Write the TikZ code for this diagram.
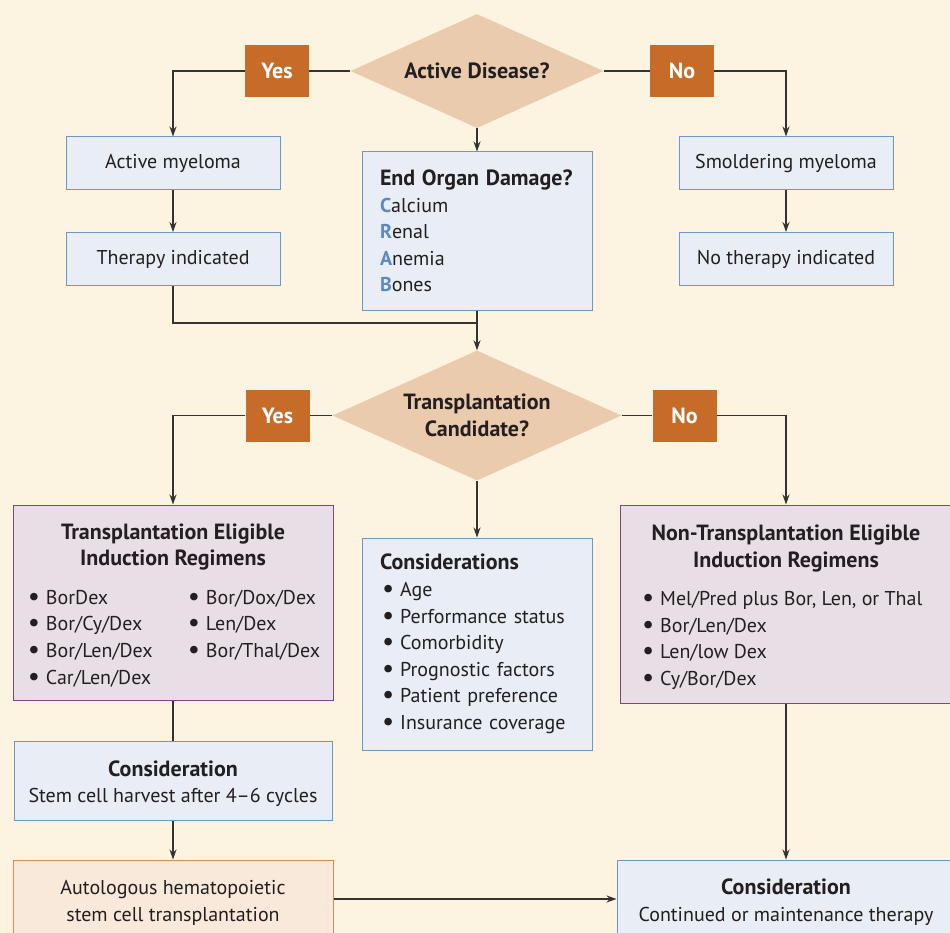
\documentclass[tikz,border=0pt]{standalone}
\usepackage{fontspec}
\setmainfont{PT Sans}
\usetikzlibrary{shapes.geometric, arrows.meta, positioning}

\definecolor{pagebg}{HTML}{FCF4E0}
\definecolor{decisionfill}{HTML}{EBCBAD}
\definecolor{answerfill}{HTML}{C66C28}
\definecolor{infofill}{HTML}{E9EDF5}
\definecolor{infoline}{HTML}{6C98C8}
\definecolor{regimenfill}{HTML}{E8DEE6}
\definecolor{regimenline}{HTML}{7F467E}
\definecolor{transfill}{HTML}{F8E9DA}
\definecolor{transline}{HTML}{DC8A4E}
\definecolor{textdark}{HTML}{231F20}
\definecolor{crabblue}{HTML}{5A8AC0}

\newcommand{\hd}[1]{{\fontsize{22}{26.6}\selectfont\bfseries #1}}
\newcommand{\crab}[1]{{\bfseries\color{crabblue}#1}}
\newcommand{\itm}[1]{\hspace*{2pt}\raisebox{-1pt}{\fontsize{27}{27}\selectfont•}\hspace{6pt}#1}

\tikzset{
  decision/.style={diamond, fill=decisionfill, aspect=2.22, inner sep=0pt,
    font=\fontsize{22}{27}\selectfont\bfseries, align=center},
  answer/.style={fill=answerfill, text=white, minimum width=64pt,
    minimum height=52pt, inner sep=0pt,
    font=\fontsize{22}{27}\selectfont\bfseries},
  infobox/.style={draw=infoline, fill=infofill, line width=1pt, inner sep=0pt},
  regimenbox/.style={draw=regimenline, fill=regimenfill, line width=1pt, inner sep=0pt, align=center},
  transbox/.style={draw=transline, fill=transfill, line width=1pt, inner sep=0pt, align=center},
  flow/.style={black!80, line width=1.2pt},
  elbow/.style={to path={-| (\tikztotarget)}}
}

\begin{document}
\begin{tikzpicture}[x=1pt, y=-1pt, >={Stealth[length=10pt,width=7pt]},
  font=\fontsize{20}{26.6}\selectfont, text=textdark]

  \useasboundingbox (0,0) rectangle (950,933);
  \clip (0,0) rectangle (950,933);
  \fill[pagebg] (0,0) rectangle (950,933);

  % first question
  \node[decision, minimum width=253pt, minimum height=114pt] (disease) at (477,71) {Active Disease?};
  \node[answer] (yesA) at (277,71) {Yes};
  \node[answer] (noA) at (682,71) {No};

  \node[infobox, minimum width=214pt, minimum height=53pt] (active) at (173,163.5) {Active myeloma};
  \node[infobox, minimum width=214pt, minimum height=53pt] (therapy) at (173,259) {Therapy indicated};
  \node[infobox, minimum width=230pt, minimum height=158pt, text width=194pt, align=left] (organ) at (477,231)
    {\hd{End Organ Damage?}\\\crab{C}alcium\\\crab{R}enal\\\crab{A}nemia\\\crab{B}ones};
  \node[infobox, minimum width=214pt, minimum height=53pt] (smolder) at (786,163.5) {Smoldering myeloma};
  \node[infobox, minimum width=214pt, minimum height=53pt] (notherapy) at (786,259) {No therapy indicated};
  \coordinate (merge) at (477,323);

  % second question
  \node[decision, minimum width=289pt, minimum height=130pt] (candidate) at (477,415.5) {Transplantation\\Candidate?};
  \node[answer] (yesB) at (277.5,415.5) {Yes};
  \node[answer] (noB) at (684.5,415.5) {No};

  \node[regimenbox, minimum width=320pt, minimum height=195pt] (eligible) at (173,602.5)
    {\rule{0pt}{26pt}\hd{Transplantation Eligible}\\\hd{Induction Regimens}\\[12pt]
     \begin{tabular}[t]{@{}p{160pt}@{}l@{}}
       \itm{BorDex} & \itm{Bor/Dox/Dex}\\
       \itm{Bor/Cy/Dex} & \itm{Len/Dex}\\
       \itm{Bor/Len/Dex} & \itm{Bor/Thal/Dex}\\
       \itm{Car/Len/Dex} &
     \end{tabular}};
  \node[infobox, minimum width=230pt, minimum height=212pt, text width=194pt, align=left] (factors) at (477,644)
    {\hd{Considerations}\\\itm{Age}\\\itm{Performance status}\\\itm{Comorbidity}\\
     \itm{Prognostic factors}\\\itm{Patient preference}\\\itm{Insurance coverage}};
  \node[regimenbox, minimum width=332pt, minimum height=198pt] (ineligible) at (786,604)
    {\rule{0pt}{26pt}\hd{Non-Transplantation Eligible}\\\hd{Induction Regimens}\\[12pt]
     \begin{tabular}[t]{@{}p{292pt}@{}}
       \itm{Mel/Pred plus Bor, Len, or Thal}\\
       \itm{Bor/Len/Dex}\\
       \itm{Len/low Dex}\\
       \itm{Cy/Bor/Dex}
     \end{tabular}};

  \node[infobox, minimum width=318pt, minimum height=79pt, align=center] (harvest) at (173,780.5)
    {\rule{0pt}{22pt}\hd{Consideration}\\Stem cell harvest after 4–6 cycles};
  \node[transbox, minimum width=320pt, minimum height=78pt] (autologous) at (173,899)
    {\rule{0pt}{22pt}Autologous hematopoietic\\stem cell transplantation};
  \node[infobox, minimum width=338pt, minimum height=78pt, align=center] (maintain) at (786,899)
    {\rule{0pt}{22pt}\hd{Consideration}\\Continued or maintenance therapy};

  % connectors
  \path[flow]
    (disease.west) edge (yesA.east)
    (disease.east) edge (noA.west)
    (candidate.west) edge (yesB.east)
    (candidate.east) edge (noB.west)
    (therapy.south) edge[to path={|- (\tikztotarget)}] (merge)
    (eligible.south) edge (harvest.north);
  \path[flow, ->]
    (yesA.west) edge[elbow] (active.north)
    (noA.east) edge[elbow] (smolder.north)
    (disease.south) edge (organ.north)
    (active.south) edge (therapy.north)
    (smolder.south) edge (notherapy.north)
    (organ.south) edge (candidate.north)
    (yesB.west) edge[elbow] (eligible.north)
    (noB.east) edge[elbow] (ineligible.north)
    (candidate.south) edge (factors.north)
    (harvest.south) edge (autologous.north)
    (autologous.east) edge (maintain.west)
    (ineligible.south) edge (maintain.north);
\end{tikzpicture}
\end{document}
